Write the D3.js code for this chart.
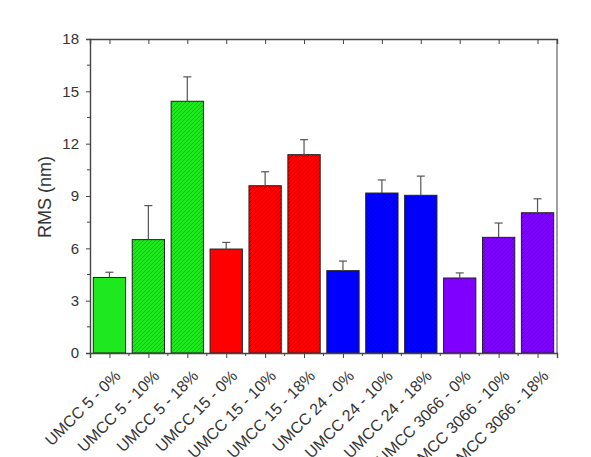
<!DOCTYPE html>
<html>
<head>
<meta charset="utf-8">
<script src="https://cdn.jsdelivr.net/npm/d3@7"></script>
<style>
  body { margin: 0; background: #fff; }
  svg { font-family: "Liberation Sans", Arial, sans-serif; }
</style>
</head>
<body>
<div id="container"></div>
<script>
// Chart data
const categories = ["UMCC 5 - 0%", "UMCC 5 - 10%", "UMCC 5 - 18%",
  "UMCC 15 - 0%", "UMCC 15 - 10%", "UMCC 15 - 18%",
  "UMCC 24 - 0%", "UMCC 24 - 10%", "UMCC 24 - 18%",
  "UMCC 3066 - 0%", "UMCC 3066 - 10%", "UMCC 3066 - 18%"];
const rmsValues = [4.33, 6.5, 14.43, 5.96, 9.59, 11.37, 4.72, 9.17, 9.04, 4.3, 6.63, 8.04];
const rmsErrors = [0.3, 1.95, 1.4, 0.38, 0.8, 0.86, 0.55, 0.75, 1.1, 0.29, 0.82, 0.8];
const groupOf = [0, 0, 0, 1, 1, 1, 2, 2, 2, 3, 3, 3];
const hatched = [false, true, true, false, true, true, false, true, true, false, true, true];
const groupColors = ["#1ee81e", "#ff0000", "#0000ff", "#8000ff"];
const hatchColors = ["#20e020", "#e00000", "#0000ee", "#7000f0"];
const yTicks = [0, 3, 6, 9, 12, 15, 18];

const chartWidth = 591, chartHeight = 457;
const plotLeft = 90, plotRight = 557, plotTop = 39, plotBottom = 353;

const svg = d3.select('#container')
  .append('svg')
  .attr('width', chartWidth)
  .attr('height', chartHeight);

// Hatch patterns for the 10% and 18% bars
const defs = svg.append('defs');
groupColors.forEach((c, i) => {
  const p = defs.append('pattern')
    .attr('id', 'hatch' + i)
    .attr('patternUnits', 'userSpaceOnUse')
    .attr('width', 4).attr('height', 4);
  p.append('rect').attr('width', 4).attr('height', 4).attr('fill', c);
  p.append('path')
    .attr('d', 'M-1,1 L1,-1 M0,4 L4,0 M3,5 L5,3')
    .attr('stroke', d3.color(hatchColors[i]).darker(0.7))
    .attr('stroke-width', 0.9);
});

const xScale = d3.scaleBand()
  .domain(categories)
  .range([plotLeft, plotRight])
  .paddingInner(0.17)
  .paddingOuter(0.085);

const xCenter = d3.scalePoint()
  .domain(categories)
  .range([plotLeft, plotRight])
  .padding(0.5);

const yScale = d3.scaleLinear()
  .domain([0, 18])
  .range([plotBottom, plotTop]);

const axisColor = '#444';

// Bars
svg.append('g')
  .selectAll('rect')
  .data(categories)
  .enter()
  .append('rect')
  .attr('x', (d) => xScale(d))
  .attr('y', (d, i) => yScale(rmsValues[i]))
  .attr('width', xScale.bandwidth())
  .attr('height', (d, i) => yScale(0) - yScale(rmsValues[i]))
  .attr('fill', (d, i) => hatched[i] ? 'url(#hatch' + groupOf[i] + ')' : groupColors[groupOf[i]])
  .attr('stroke', '#222')
  .attr('stroke-width', 1);

// Error bars (upper only)
const err = svg.append('g').attr('stroke', '#555').attr('stroke-width', 1.2);
categories.forEach((d, i) => {
  const cx = xCenter(d);
  err.append('line')
    .attr('x1', cx).attr('x2', cx)
    .attr('y1', yScale(rmsValues[i])).attr('y2', yScale(rmsValues[i] + rmsErrors[i]));
  err.append('line')
    .attr('x1', cx - 4).attr('x2', cx + 4)
    .attr('y1', yScale(rmsValues[i] + rmsErrors[i])).attr('y2', yScale(rmsValues[i] + rmsErrors[i]));
});

// Y axis
const yAxis = d3.axisLeft(yScale).tickValues(yTicks).tickSize(4).tickPadding(7);
const yg = svg.append('g')
  .attr('transform', 'translate(' + plotLeft + ',0)')
  .call(yAxis);
yg.selectAll('text').style('font-size', '15px').attr('fill', '#333');

// minor y ticks
svg.append('g')
  .selectAll('line')
  .data(d3.range(1.5, 18, 3))
  .enter()
  .append('line')
  .attr('x1', plotLeft - 3).attr('x2', plotLeft)
  .attr('y1', (d) => yScale(d)).attr('y2', (d) => yScale(d))
  .attr('stroke', axisColor);

// X axis
const xAxis = d3.axisBottom(xCenter).tickSize(5).tickFormat('');
svg.append('g')
  .attr('transform', 'translate(0,' + plotBottom + ')')
  .call(xAxis);

// minor x ticks at category boundaries
svg.append('g')
  .selectAll('line')
  .data(categories.slice(1))
  .enter()
  .append('line')
  .attr('x1', (d) => xCenter(d) - xCenter.step() / 2)
  .attr('x2', (d) => xCenter(d) - xCenter.step() / 2)
  .attr('y1', plotBottom).attr('y2', plotBottom + 3)
  .attr('stroke', axisColor);

// x labels rotated
svg.append('g')
  .selectAll('text')
  .data(categories)
  .enter()
  .append('text')
  .attr('transform', (d) => 'translate(' + (xCenter(d) + 12) + ',' + (plotBottom + 24) + ') rotate(-45)')
  .attr('text-anchor', 'end')
  .style('font-size', '16px')
  .attr('fill', '#333')
  .text((d) => d);

// Top axis with inward ticks
svg.append('g')
  .attr('transform', 'translate(0,' + plotTop + ')')
  .call(d3.axisBottom(xCenter).tickSize(5).tickFormat(''));

// right frame
svg.append('line')
  .attr('x1', plotRight).attr('x2', plotRight)
  .attr('y1', plotTop).attr('y2', plotBottom)
  .attr('stroke', axisColor);

svg.selectAll('.domain').attr('stroke', axisColor).attr('stroke-width', 1.4);
svg.selectAll('.tick line').attr('stroke', axisColor);

// Y label
svg.append('text')
  .attr('transform', 'translate(51,197) rotate(-90)')
  .attr('text-anchor', 'middle')
  .style('font-size', '18px')
  .attr('fill', '#333')
  .text('RMS (nm)');
</script>
</body>
</html>
